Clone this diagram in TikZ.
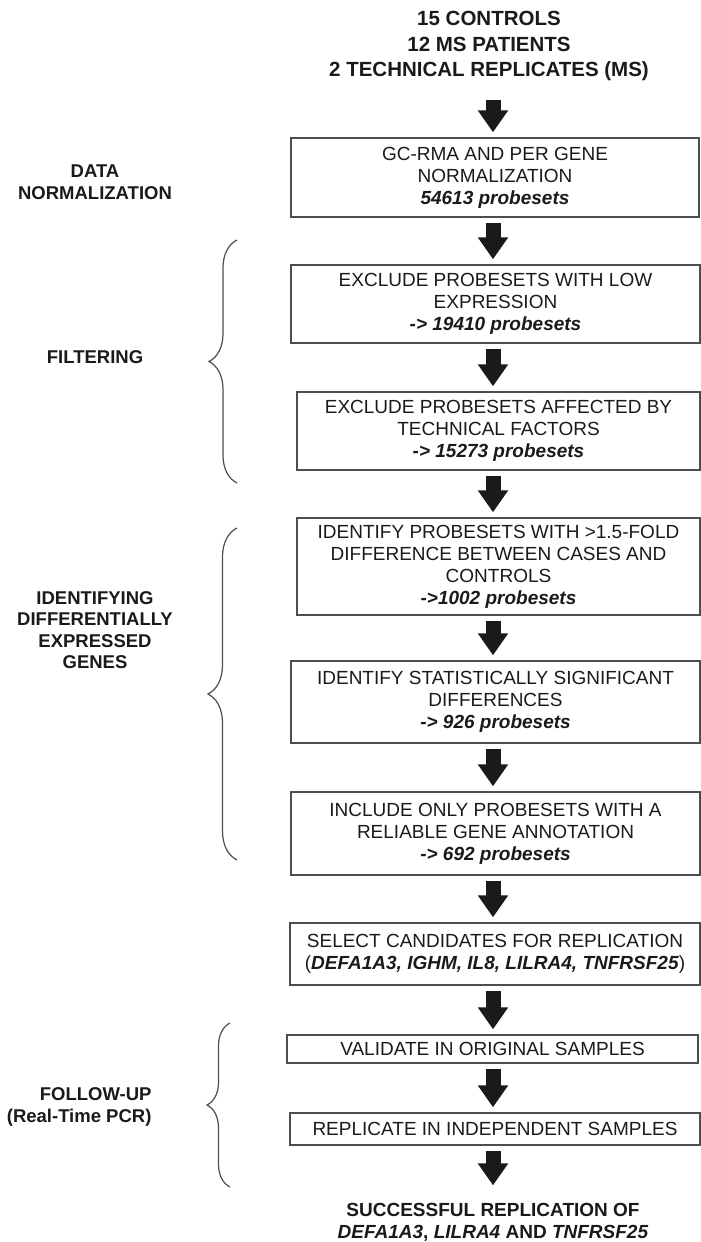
\documentclass[tikz,border=0pt]{standalone}
\usepackage{fontspec}
\setmainfont{Liberation Sans}
\usetikzlibrary{arrows.meta,decorations.pathreplacing}
\definecolor{framegray}{HTML}{4D4D4D}
\definecolor{inkblack}{HTML}{1A1A1A}
\tikzset{
  stepbox/.style={draw=framegray, line width=1.4pt, inner sep=0pt, align=center, text=inkblack, font=\fontsize{19}{22}\selectfont},
  sidelabel/.style={align=center, text=inkblack, font=\bfseries\fontsize{18.5}{21.5}\selectfont},
  flow/.style={draw=inkblack, line width=15pt, -{Triangle[length=22pt,width=29pt]}, shorten <=5pt, shorten >=5pt},
  bracket/.style={draw=framegray, line width=1.2pt, decorate, decoration={brace, amplitude=#1}},
}
\newcommand{\cnt}[1]{\textbf{\textit{#1}}}

\begin{document}
\begin{tikzpicture}[x=1pt, y=-1pt]
		%%%%% START %%%%%
		\useasboundingbox (0,0) rectangle (701,1242);
		\coordinate (spine) at (493,0);
		
		\node[align=center, text=inkblack, font=\bfseries\fontsize{20.5}{25.5}\selectfont] (samples) at (489,46) {15 CONTROLS\\12 MS PATIENTS\\2 TECHNICAL REPLICATES (MS)};
		
		\node[stepbox, minimum width=408pt, minimum height=79pt] (norm) at (495,177.5) {GC-RMA AND PER GENE\\NORMALIZATION\\\cnt{54613 probesets}};
		\node[stepbox, minimum width=409pt, minimum height=78pt] (lowexpr) at (495.5,304) {EXCLUDE PROBESETS WITH LOW\\EXPRESSION\\\cnt{-> 19410 probesets}};
		\node[stepbox, minimum width=403pt, minimum height=78pt] (techfac) at (498.5,431) {EXCLUDE PROBESETS AFFECTED BY\\TECHNICAL FACTORS\\\cnt{-> 15273 probesets}};
		\node[stepbox, minimum width=403pt, minimum height=97pt] (fold) at (498.5,566.5) {IDENTIFY PROBESETS WITH >1.5-FOLD\\DIFFERENCE BETWEEN CASES AND\\CONTROLS\\\cnt{->1002 probesets}};
		\node[stepbox, minimum width=409pt, minimum height=82pt] (stat) at (495.5,702) {IDENTIFY STATISTICALLY SIGNIFICANT\\DIFFERENCES\\\cnt{-> 926 probesets}};
		\node[stepbox, minimum width=409pt, minimum height=83pt] (annot) at (495.5,833.5) {INCLUDE ONLY PROBESETS WITH A\\RELIABLE GENE ANNOTATION\\\cnt{-> 692 probesets}};
		\node[stepbox, minimum width=410pt, minimum height=62pt] (select) at (495,954) {SELECT CANDIDATES FOR REPLICATION\\(\cnt{DEFA1A3, IGHM, IL8, LILRA4, TNFRSF25})};
		\node[stepbox, minimum width=411pt, minimum height=28pt] (valid) at (492.5,1049) {VALIDATE IN ORIGINAL SAMPLES};
		\node[stepbox, minimum width=410pt, minimum height=32pt] (indep) at (495,1129) {REPLICATE IN INDEPENDENT SAMPLES};
		
		\node[align=center, text=inkblack, font=\bfseries\fontsize{19}{22}\selectfont] (success) at (493,1222) {SUCCESSFUL REPLICATION OF\\\textit{DEFA1A3}, \textit{LILRA4} AND \textit{TNFRSF25}};
		
		\draw[flow, shorten <=16pt] (samples.south -| spine) -- (norm.north -| spine);
		\draw[flow] (norm.south -| spine) -- (lowexpr.north -| spine);
		\draw[flow] (lowexpr.south -| spine) -- (techfac.north -| spine);
		\draw[flow] (techfac.south -| spine) -- (fold.north -| spine);
		\draw[flow] (fold.south -| spine) -- (stat.north -| spine);
		\draw[flow] (stat.south -| spine) -- (annot.north -| spine);
		\draw[flow] (annot.south -| spine) -- (select.north -| spine);
		\draw[flow] (select.south -| spine) -- (valid.north -| spine);
		\draw[flow] (valid.south -| spine) -- (indep.north -| spine);
		\draw[flow, shorten >=14pt] (indep.south -| spine) -- (success.north -| spine);
		
		\node[sidelabel] (datanorm) at (95,182) {DATA\\NORMALIZATION};
		\node[sidelabel] (filtering) at (95,357) {FILTERING};
		\node[sidelabel] (degenes) at (95,630) {IDENTIFYING\\DIFFERENTIALLY\\EXPRESSED\\GENES};
		\node[sidelabel, align=right, anchor=east] (followup) at (155,1107) {FOLLOW-UP\\(Real-Time PCR)};
		
		\draw[bracket=28pt] (237,483) -- (237,240);
		\draw[bracket=29pt] (237,860) -- (237,528);
		\draw[bracket=23pt] (230,1187) -- (230,1023);
		
		%%%%% END %%%%%
	\end{tikzpicture}
\end{document}
